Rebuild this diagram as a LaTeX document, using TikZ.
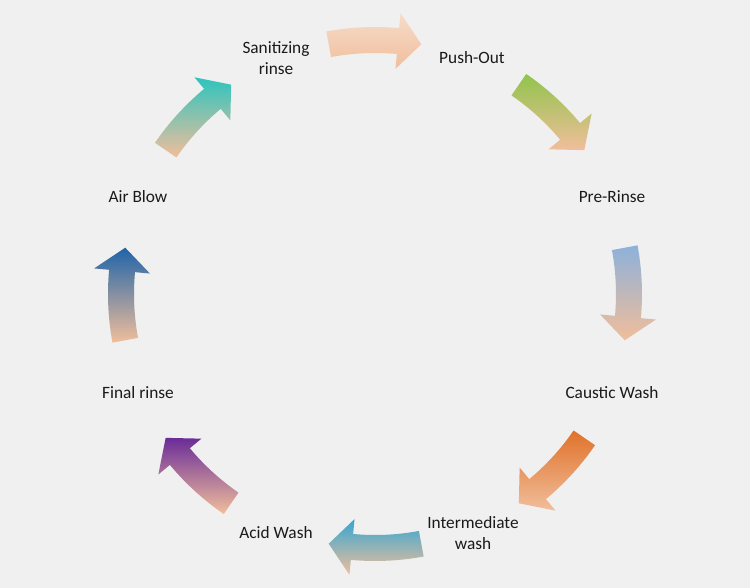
\documentclass[tikz,border=0pt]{standalone}
\usepackage{fontspec}
\setmainfont{Carlito}
\definecolor{bgc}{HTML}{F0F0F0}
\definecolor{peach}{HTML}{F1BE9B}
\definecolor{ca}{HTML}{F6DCCB}
\definecolor{cb}{HTML}{90C44C}
\definecolor{cc}{HTML}{8DB1DA}
\definecolor{cd}{HTML}{E0722A}
\definecolor{ce}{HTML}{34A6D2}
\definecolor{cf}{HTML}{6A2C98}
\definecolor{cg}{HTML}{1F64A8}
\definecolor{ch}{HTML}{2EC4BE}
\definecolor{txt}{HTML}{1A1A1A}
\tikzset{lbl/.style={text=txt, font=\fontsize{17.3}{21}\selectfont, align=center, inner sep=0pt}}
\begin{document}
\begin{tikzpicture}
\fill[bgc] (-375pt,-294pt) rectangle (375pt,294pt);
\useasboundingbox (-375pt,-294pt) rectangle (375pt,294pt);
\foreach \ang/\col in {90/ca, 45/cb, 0/cc, -45/cd, -90/ce, -135/cf, 180/cg, 135/ch} {
  \pgfmathsetmacro\aa{\ang+10.5}
  \pgfmathsetmacro\ab{\ang-5.2}
  \pgfmathsetmacro\ac{\ang-10.5}
  \shade[top color=\col, bottom color=peach]
    (\aa:267pt) arc[start angle=\aa, end angle=\ab, radius=267pt]
    -- (\ab:282pt) -- (\ac:254pt) -- (\ab:226pt) -- (\ab:241pt)
    arc[start angle=\ab, end angle=\aa, radius=241pt] -- cycle;
}
\node[lbl] (sr) at (-99pt,236pt) {Sanitizing\\rinse};
\node[lbl] (po) at (97pt,236pt) {Push-Out};
\node[lbl] (pr) at (237pt,97pt) {Pre-Rinse};
\node[lbl] (cw) at (237pt,-99pt) {Caustic Wash};
\node[lbl] (iw) at (98pt,-239pt) {Intermediate\\wash};
\node[lbl] (aw) at (-99pt,-239pt) {Acid Wash};
\node[lbl] (fr) at (-237pt,-99pt) {Final rinse};
\node[lbl] (ab) at (-237pt,97pt) {Air Blow};
\end{tikzpicture}
\end{document}
